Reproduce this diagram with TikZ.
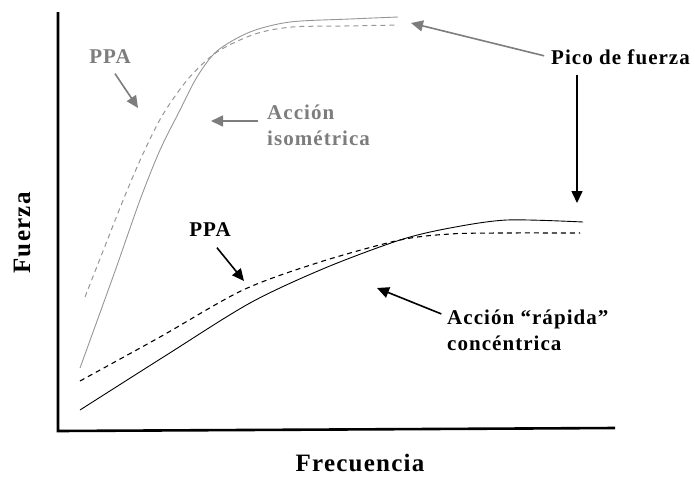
\documentclass[tikz,border=0pt]{standalone}
\usepackage{fontspec}
\setmainfont{Liberation Serif}
\usetikzlibrary{arrows.meta}
\definecolor{curvegray}{RGB}{150,150,150}
\definecolor{labelgray}{RGB}{125,125,125}

\begin{document}
\begin{tikzpicture}[x=1pt,y=-1pt,
    lbl/.style={font=\fontsize{21}{26}\selectfont\bfseries\addfontfeature{LetterSpace=5}, align=left, inner sep=2pt},
    axislbl/.style={font=\fontsize{25}{28}\selectfont\bfseries\addfontfeature{LetterSpace=5}, inner sep=0pt},
    blackarrow/.style={line width=1.6pt, -{Triangle[length=12pt,width=11pt]}},
    grayarrow/.style={blackarrow, draw=labelgray, fill=labelgray},
    dashline/.style={dash pattern=on 5pt off 4pt}]
    \useasboundingbox (0,0) rectangle (695,477);

    % Axes
    \coordinate (ytop) at (58,12);
    \coordinate (orig) at (58,431);
    \coordinate (xend) at (615,428);
    \draw[line width=2.6pt] (ytop) -- (orig) -- (xend);
    \node[axislbl, rotate=90] (fuerza) at (22,233) {Fuerza};
    \node[axislbl] (frec) at (360,463) {Frecuencia};

    % Isometric action (gray)
    \draw[curvegray, line width=0.9pt] plot[smooth, tension=0.5] coordinates
        {(80,368) (114,274) (140,200) (160,150) (180,110) (197,77) (217,51) (250,32) (290,22) (350,19) (398,17)};
    \draw[curvegray, line width=1pt, dashline] plot[smooth, tension=0.5] coordinates
        {(85,297) (105,246) (124,198) (142,156) (162,116) (188,79) (217,52) (255,34) (292,27) (345,26) (398,25)};

    % Fast concentric action (black)
    \draw[line width=0.9pt] plot[smooth, tension=0.5] coordinates
        {(80,410) (165,356) (250,303) (325,268) (400,240) (450,228) (507,220) (583,222)};
    \draw[line width=1.1pt, dashline] plot[smooth, tension=0.5] coordinates
        {(80,381) (160,337) (243,290) (320,262) (400,240) (450,234) (500,233) (580,233)};

    % Labels and arrows
    \node[lbl, labelgray] (ppaiso) at (110,57) {PPA};
    \coordinate (ppaisotip) at (138,108);
    \draw[grayarrow, shorten <=9pt] (ppaiso.south) -- (ppaisotip);

    \node[lbl, labelgray, anchor=west] (isolbl) at (265,125) {Acción\\isométrica};
    \coordinate (isotip) at (211,121);
    \draw[grayarrow, shorten <=7pt] (isolbl.west |- isotip) -- (isotip);

    \node[lbl, anchor=west] (pico) at (549,57) {Pico de fuerza};
    \coordinate (picotop) at (411,23);
    \coordinate (picolow) at (577,203);
    \draw[grayarrow, shorten <=5pt] (pico.west) -- (picotop);
    \draw[blackarrow, shorten <=8pt] (pico.south -| picolow) -- (picolow);

    \node[lbl] (ppacon) at (210,230) {PPA};
    \coordinate (ppacontip) at (244,281);
    \draw[blackarrow, shorten <=11pt] (ppacon.south) -- (ppacontip);

    \node[lbl, anchor=west] (conlbl) at (445,330) {Acción “rápida”\\concéntrica};
    \coordinate (contip) at (377,288);
    \draw[blackarrow, shorten <=4pt] (conlbl.170) -- (contip);
\end{tikzpicture}
\end{document}
